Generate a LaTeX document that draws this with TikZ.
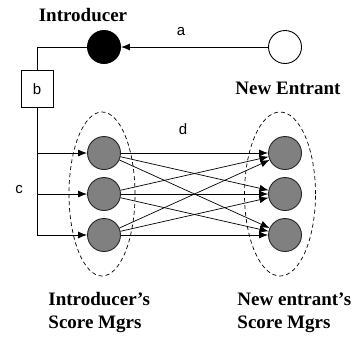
\documentclass[tikz,border=0pt]{standalone}
\usepackage{fontspec}
\setmainfont{Liberation Serif}
\newfontfamily\labelfont{Liberation Sans}
\usetikzlibrary{arrows.meta,shapes.geometric}
\definecolor{mgrgray}{RGB}{128,128,128}
\begin{document}
\begin{tikzpicture}[x=1pt,y=-1pt,
  line width=0.9pt,
  tip/.style={-{Latex[length=9pt,width=7pt]}},
  agent/.style={circle,draw,minimum size=33pt,inner sep=0pt},
  mgr/.style={agent,fill=mgrgray,draw=black!85},
  group/.style={ellipse,draw,dash pattern=on 4pt off 3pt,line width=0.7pt,inner sep=0pt},
  title/.style={font=\fontsize{19}{23}\selectfont\bfseries,inner sep=0pt,align=left},
  tag/.style={font=\labelfont\fontsize{15}{18}\selectfont,inner sep=0pt}]
\useasboundingbox (0,0) rectangle (353,338);

% groups of score managers
\node[group,minimum width=66pt,minimum height=164pt] (G1) at (102,194) {};
\node[group,minimum width=71pt,minimum height=164pt] (G2) at (280,194) {};

% introducer and new entrant
\node[agent,fill=black] (intro) at (104,47) {};
\node[agent,fill=white] (entrant) at (285,47) {};
\node[title] (tintro) at (83,15) {Introducer};
\node[title] (tentrant) at (288,88) {New Entrant};

% box b and its wiring
\node[draw,minimum width=32pt,minimum height=37pt,inner sep=0pt,tag] (boxb) at (37,89) {b};
\coordinate (corner) at (37,47);
\coordinate (stem) at (37,235);
\draw (intro.west) -- (corner) -- (boxb.north);
\draw (boxb.south) -- (stem);

% score managers
\foreach \i/\y in {1/153,2/194,3/235}{
  \node[mgr] (L\i) at (104,\y) {};
  \node[mgr] (R\i) at (285,\y) {};
  \coordinate (c\i) at (37,\y);
}
\draw[tip] (c1) -- (L1);
\draw[tip] (c2) -- (L2);
\draw[tip] (c3) -- (L3);

% every introducer manager talks to every entrant manager
\foreach \i in {1,2,3}{
  \foreach \j in {1,2,3}{
    \draw[tip,line width=0.7pt] (L\i) -- (R\j);
  }
}

% introduction request
\draw[tip] (entrant) -- (intro);

% labels
\node[tag] (la) at (181,32) {a};
\node[tag] (ld) at (183,129) {d};
\node[tag] (lc) at (19,190) {c};

\node[title,anchor=north west] (tl) at (48,292) {Introducer's\\Score Mgrs};
\node[title,anchor=north west] (tr) at (237,292) {New entrant's\\Score Mgrs};
\end{tikzpicture}
\end{document}
